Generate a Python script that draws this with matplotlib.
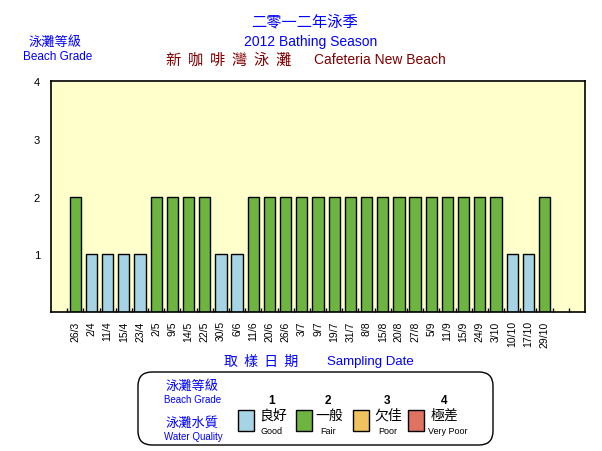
import matplotlib
matplotlib.use('Agg')
import matplotlib.pyplot as plt
import numpy as np
from matplotlib.patches import FancyBboxPatch, Rectangle

plt.rcParams['font.family'] = ['Liberation Sans', 'Noto Sans CJK TC', 'DejaVu Sans']

dates = ['26/3', '2/4', '11/4', '15/4', '23/4', '2/5', '9/5', '14/5', '22/5', '30/5',
         '6/6', '11/6', '20/6', '26/6', '3/7', '9/7', '19/7', '31/7', '8/8', '15/8',
         '20/8', '27/8', '5/9', '11/9', '15/9', '24/9', '3/10', '10/10', '17/10', '29/10']
grades = [2, 1, 1, 1, 1, 2, 2, 2, 2, 1,
          1, 2, 2, 2, 2, 2, 2, 2, 2, 2,
          2, 2, 2, 2, 2, 2, 2, 1, 1, 2]
grade_colors = {1: '#a6d4e4', 2: '#6db540', 3: '#f0c25e', 4: '#e07262'}
legend_cn = ['良好', '一般', '欠佳', '極差']
legend_en = ['Good', 'Fair', 'Poor', 'Very Poor']

W, H = 602, 452
fig = plt.figure(figsize=(W / 100, H / 100), dpi=100)
fig.patch.set_facecolor('white')


def px(x, y):
    return x / W, 1 - y / H


CJK = ['Noto Sans CJK TC', 'DejaVu Sans']
BLUE = '#0000ff'

# plot area
ax = fig.add_axes([51 / W, (H - 313) / H, 534 / W, 231 / H])
ax.set_facecolor('#ffffcc')
pos = np.arange(1, len(dates) + 1)
ax.bar(pos, grades, width=0.7, color=[grade_colors[g] for g in grades],
       edgecolor='black', linewidth=1)
ax.set_xlim(-0.5, 32.5)
ax.set_ylim(0, 4)
ax.set_xticks(pos)
ax.set_xticklabels(dates, rotation=90, fontsize=7.5)
ax.set_xticks(np.arange(0.5, 32, 1), minor=True)
ax.tick_params(axis='x', which='major', length=0, pad=6)
ax.tick_params(axis='x', which='minor', direction='in', length=3, width=1)
ax.set_yticks([1, 2, 3, 4])
ax.set_yticklabels(['1', '2', '3', '4'], fontsize=8)
ax.tick_params(axis='y', length=0, pad=8)
for s in ax.spines.values():
    s.set_linewidth(1.2)

# titles
fig.text(*px(305, 22), '二零一二年泳季', color=BLUE, fontsize=11, family=CJK,
         ha='center', va='center')
fig.text(*px(311, 42), '2012 Bathing Season', color=BLUE, fontsize=10,
         ha='center', va='center')
fig.text(*px(229, 60), '新  咖  啡  灣  泳  灘', color='#800000', fontsize=11,
         family=CJK, ha='center', va='center')
fig.text(*px(380, 60), 'Cafeteria New Beach', color='#800000', fontsize=10,
         ha='center', va='center')
fig.text(*px(55, 42), '泳灘等級', color=BLUE, fontsize=9.5, family=CJK,
         ha='center', va='center')
fig.text(*px(58, 57), 'Beach Grade', color=BLUE, fontsize=8.5,
         ha='center', va='center')

# x axis title
fig.text(*px(261, 362), '取  樣  日  期', color=BLUE, fontsize=10, family=CJK,
         ha='center', va='center')
fig.text(*px(370, 362), 'Sampling Date', color=BLUE, fontsize=9.5,
         ha='center', va='center')

# legend box
box = FancyBboxPatch((1.38, (H - 446) / 100), 3.55, 0.73,
                     boxstyle='round,pad=0,rounding_size=0.14',
                     transform=fig.dpi_scale_trans, facecolor='white',
                     edgecolor='black', linewidth=1)
fig.add_artist(box)
fig.text(*px(192, 386), '泳灘等級', color=BLUE, fontsize=9.5, family=CJK,
         ha='center', va='center')
fig.text(*px(193, 400), 'Beach Grade', color=BLUE, fontsize=7,
         ha='center', va='center')
fig.text(*px(192, 423), '泳灘水質', color=BLUE, fontsize=9.5, family=CJK,
         ha='center', va='center')
fig.text(*px(193, 437), 'Water Quality', color=BLUE, fontsize=7,
         ha='center', va='center')

sw_x = [238, 296, 353, 408]
num_x = [272, 328, 387, 444]
cn_x = [273, 329, 388, 444]
en_x = [272, 328, 388, 448]
for i, g in enumerate([1, 2, 3, 4]):
    fig.add_artist(Rectangle((sw_x[i] / 100, (H - 432) / 100), 0.16, 0.21,
                             transform=fig.dpi_scale_trans,
                             facecolor=grade_colors[g], edgecolor='black',
                             linewidth=1))
    fig.text(*px(num_x[i], 401), str(g), fontsize=8.5, fontweight='bold',
             ha='center', va='center')
    fig.text(*px(cn_x[i], 416), legend_cn[i], fontsize=10, family=CJK,
             ha='center', va='center')
    fig.text(*px(en_x[i], 432), legend_en[i], fontsize=6.5,
             ha='center', va='center')

fig.savefig('out.png', dpi=100)
